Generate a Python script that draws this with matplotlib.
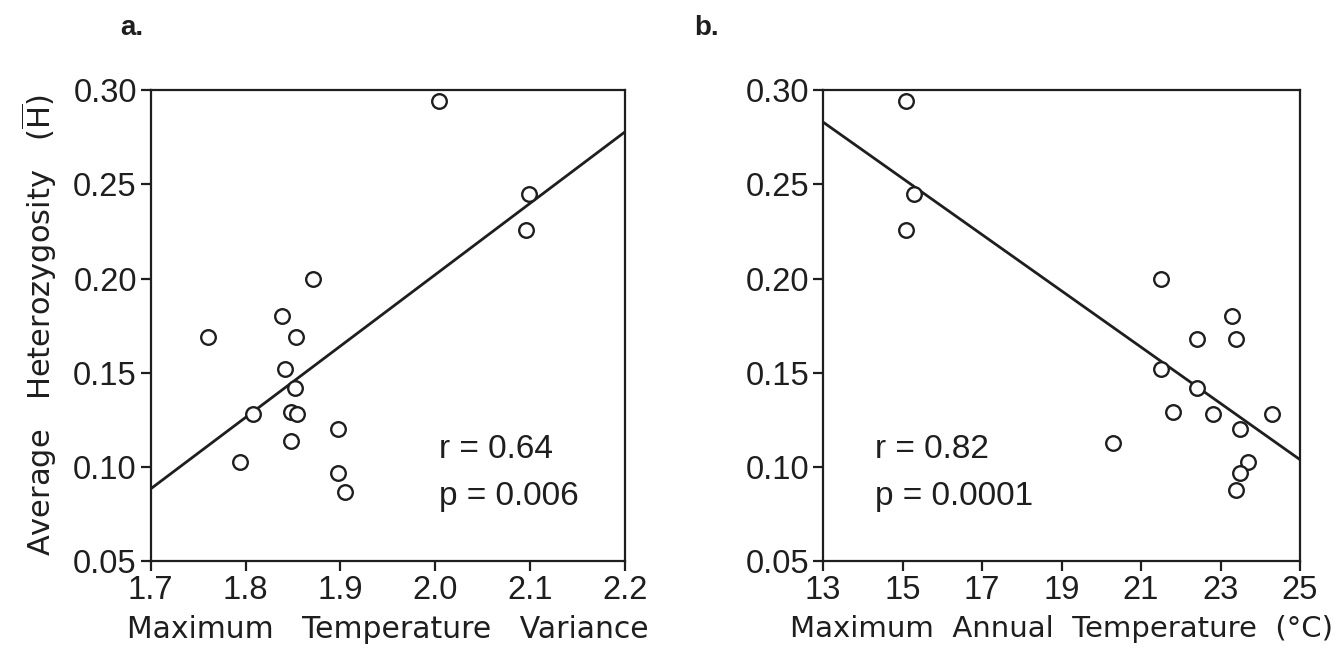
import numpy as np
import matplotlib
matplotlib.use("Agg")
import matplotlib.pyplot as plt

# panel a: maximum temperature variance vs heterozygosity
var_x = [1.760, 1.794, 1.808, 1.838, 1.842, 1.853, 1.852, 1.848, 1.854, 1.848,
         1.871, 1.898, 1.898, 1.905, 2.004, 2.099, 2.096]
var_h = [0.169, 0.103, 0.128, 0.180, 0.152, 0.169, 0.142, 0.129, 0.128, 0.114,
         0.200, 0.120, 0.097, 0.087, 0.294, 0.245, 0.226]
fit_a_x = [1.7, 2.2]
fit_a_y = [0.0885, 0.2778]

# panel b: maximum annual temperature vs heterozygosity
temp_x = [15.1, 15.3, 15.1, 21.5, 23.3, 22.4, 23.4, 21.5, 22.4, 21.8,
          22.8, 24.3, 23.5, 23.7, 23.5, 23.4, 20.3]
temp_h = [0.294, 0.245, 0.226, 0.200, 0.180, 0.168, 0.168, 0.152, 0.142, 0.129,
          0.128, 0.128, 0.120, 0.103, 0.097, 0.088, 0.113]
fit_b_x = [13, 25]
fit_b_y = [0.283, 0.104]

yticks = [0.05, 0.10, 0.15, 0.20, 0.25, 0.30]
xticks_a = [1.7, 1.8, 1.9, 2.0, 2.1, 2.2]
xticks_b = [13, 15, 17, 19, 21, 23, 25]

ink = "#1e1e1e"
tick_font = "Liberation Sans"
label_font = "DejaVu Sans"

fig = plt.figure(figsize=(13.38, 6.57), dpi=100)
ax_a = fig.add_axes([0.1126, 0.1454, 0.3545, 0.7176])
ax_b = fig.add_axes([0.6151, 0.1454, 0.3565, 0.7176])


def style(ax, xticks, xlim, fmt):
    ax.set_ylim(0.05, 0.30)
    ax.set_xlim(*xlim)
    ax.set_yticks(yticks)
    ax.set_yticklabels([f"{v:.2f}" for v in yticks])
    ax.set_xticks(xticks)
    ax.set_xticklabels([fmt(v) for v in xticks])
    for s in ax.spines.values():
        s.set_linewidth(1.6)
        s.set_color(ink)
    ax.tick_params(direction="out", length=7, width=1.6, color=ink,
                   labelsize=23.5, labelcolor=ink, pad=3)
    for lab in ax.get_xticklabels() + ax.get_yticklabels():
        lab.set_fontfamily(tick_font)


style(ax_a, xticks_a, (1.7, 2.2), lambda v: f"{v:.1f}")
style(ax_b, xticks_b, (13, 25), lambda v: f"{v:d}")

for ax, x, y, fx, fy in [(ax_a, var_x, var_h, fit_a_x, fit_a_y),
                         (ax_b, temp_x, temp_h, fit_b_x, fit_b_y)]:
    ax.plot(fx, fy, color=ink, lw=2.0, solid_capstyle="butt", zorder=2)
    ax.plot(x, y, "o", ms=10.5, mfc="white", mec=ink, mew=1.7,
            linestyle="none", zorder=3, clip_on=False)

stat_size = 24
ax_a.text(2.004, 0.1095, "r = 0.64", fontsize=stat_size, family=tick_font,
          color=ink, va="center")
ax_a.text(2.004, 0.0845, "p = 0.006", fontsize=stat_size, family=tick_font,
          color=ink, va="center")
ax_b.text(14.3, 0.1095, "r = 0.82", fontsize=stat_size, family=tick_font,
          color=ink, va="center")
ax_b.text(14.3, 0.0845, "p = 0.0001", fontsize=stat_size, family=tick_font,
          color=ink, va="center")

ax_a.set_xlabel("Maximum   Temperature   Variance", fontsize=21.5,
                family=label_font, color=ink, labelpad=6)
ax_b.set_xlabel("Maximum  Annual  Temperature  (\u00b0C)", fontsize=21,
                family=label_font, color=ink, labelpad=6)
ax_a.set_ylabel(r"Average   Heterozygosity   ($\overline{\mathrm{H}}$)",
                fontsize=22, family=label_font, color=ink, labelpad=10)

fig.text(0.090, 0.958, "a.", fontsize=20, fontweight="bold",
         family=tick_font, color=ink, va="center")
fig.text(0.519, 0.958, "b.", fontsize=20, fontweight="bold",
         family=tick_font, color=ink, va="center")

fig.savefig("out.png", dpi=100, facecolor="white")
